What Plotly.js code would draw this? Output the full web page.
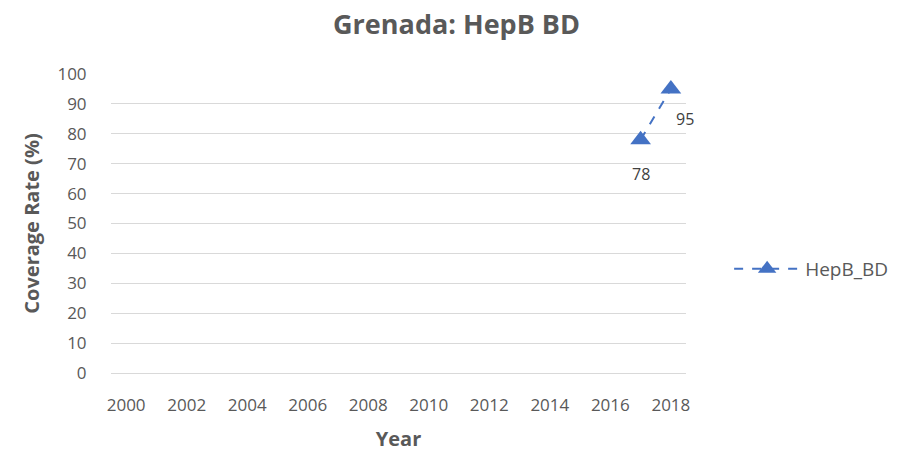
<!DOCTYPE html>
<html>
<head>
<meta charset="utf-8">
<script src="https://cdn.plot.ly/plotly-3.0.1.min.js"></script>
<style>html,body{margin:0;padding:0;background:#fff;}#chart{width:904px;height:455px;}</style>
</head>
<body>
<div id="chart"></div>
<script>
const years = [2017, 2018];
const coverage = [78, 95];
const labelShiftX = [0, 14];
const labelShiftY = [-34, -30];
const labelAnchor = ["center", "center"];
const tickYears = [2000, 2002, 2004, 2006, 2008, 2010, 2012, 2014, 2016, 2018];
const seriesName = "HepB_BD";

const FONT = "Open Sans, Noto Sans, sans-serif";
const GREY = "#595959";

const trace = {
  x: years,
  y: coverage,
  type: "scatter",
  mode: "lines+markers",
  name: seriesName,
  line: {color: "#4472C4", width: 2, dash: "dash"},
  marker: {symbol: "triangle-up", size: 18, color: "#4472C4"},
  cliponaxis: false
};

const annotations = years.map((yr, i) => ({
  x: yr, y: coverage[i], xref: "x", yref: "y",
  text: String(coverage[i]), showarrow: false,
  xanchor: labelAnchor[i], yanchor: "middle",
  xshift: labelShiftX[i], yshift: labelShiftY[i],
  font: {family: FONT, size: 16, color: "#404040"}
}));

const layout = {
  width: 904, height: 455,
  margin: {l: 111, r: 218, t: 74, b: 82, autoexpand: false},
  paper_bgcolor: "#fff", plot_bgcolor: "#fff",
  title: {text: "<b>Grenada: HepB BD</b>", font: {family: FONT, size: 27, color: GREY}, x: 0.505, xanchor: "center", y: 0.945, yanchor: "middle"},
  xaxis: {
    range: [1999.5, 2018.5],
    tickmode: "array", tickvals: tickYears, ticktext: tickYears.map(String),
    showgrid: false, zeroline: false, showline: false,
    ticks: "outside", ticklen: 17, tickcolor: "rgba(0,0,0,0)",
    tickfont: {family: FONT, size: 17, color: GREY},
    title: {text: "<b>Year</b>", font: {family: FONT, size: 20, color: GREY}, standoff: 16}
  },
  yaxis: {
    range: [0, 100], dtick: 10, tick0: 0,
    showgrid: true, gridcolor: "#d9d9d9", gridwidth: 1,
    zeroline: true, zerolinecolor: "#d9d9d9", zerolinewidth: 1,
    showline: false,
    ticks: "outside", ticklen: 20, tickcolor: "rgba(0,0,0,0)",
    tickfont: {family: FONT, size: 17, color: GREY},
    title: {text: "<b>Coverage Rate (%)</b>", font: {family: FONT, size: 20, color: GREY}, standoff: 12}
  },
  annotations: annotations,
  showlegend: true,
  legend: {x: 1.075, xanchor: "left", y: 0.348, yanchor: "middle", font: {family: FONT, size: 19, color: GREY}, bgcolor: "rgba(0,0,0,0)", itemwidth: 66}
};

Plotly.newPlot("chart", [trace], layout, {displayModeBar: false, staticPlot: true});
</script>
</body>
</html>
